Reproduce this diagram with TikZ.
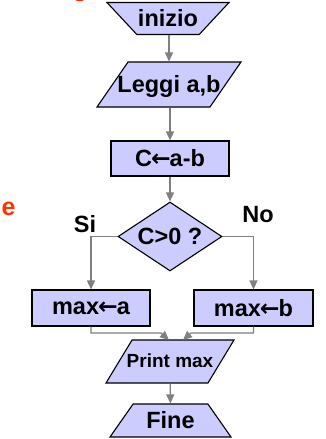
\documentclass[tikz,border=0pt]{standalone}
\usepackage{fontspec}
\setmainfont{Liberation Sans}
\newfontfamily\arrowfont{DejaVu Sans}
\newcommand{\getsarrow}{{\arrowfont\bfseries\kern-1pt←\kern-1pt}}
\usepackage{tikz}
\usetikzlibrary{shapes.geometric, arrows.meta}
\definecolor{boxfill}{HTML}{CCCCFF}
\definecolor{linegray}{HTML}{808080}
\definecolor{slideorange}{HTML}{FF3300}
\tikzset{
  blk/.style={draw=black, line width=1.1pt, fill=boxfill, inner sep=0pt,
              font=\fontsize{23.5}{26}\selectfont\bfseries},
  tz/.style={blk, trapezium, trapezium stretches body, inner xsep=-20pt},
  act/.style={blk, rectangle},
  ask/.style={blk, diamond, aspect=1.5},
  lbl/.style={font=\fontsize{23.5}{26}\selectfont\bfseries},
  frag/.style={text=slideorange, font=\fontsize{25}{28}\selectfont\bfseries, anchor=base},
  flow/.style={-{Triangle[length=9pt, width=8pt]}, draw=linegray, line width=1.3pt}
}
\begin{document}
\begin{tikzpicture}[x=1pt, y=-1pt]
  \path[use as bounding box, clip] (0,0) rectangle (325,439);
  \node[frag] (fragg) at (80,-4) {g};
  \node[frag] (frage) at (8.5,215) {e};
  \node[tz, trapezium left angle=133, trapezium right angle=133,
        minimum width=122pt, text height=23.8pt, text depth=8.2pt] (start) at (168,18.5) {inizio};
  \node[tz, trapezium left angle=55.4, trapezium right angle=124.6,
        minimum width=144pt, text height=30.3pt, text depth=14.7pt] (read) at (169,84.5) {Leggi a,b};
  \node[act, minimum width=118pt, minimum height=35pt] (diff) at (170,158.5) {C\getsarrow a-b};
  \node[ask, minimum width=104pt, minimum height=69pt] (test) at (170,236.5) {C>0 ?};
  \node[act, minimum width=118pt, minimum height=36pt] (maxa) at (91,308) {max\getsarrow a};
  \node[act, minimum width=119pt, minimum height=36pt] (maxb) at (253.5,308) {max\getsarrow b};
  \node[tz, trapezium left angle=58.8, trapezium right angle=121.2,
        minimum width=128pt, text height=27.8pt, text depth=15.2pt,
        font=\fontsize{19}{21}\selectfont\bfseries] (out) at (170,361.5) {Print max};
  \node[tz, trapezium left angle=55, trapezium right angle=55,
        minimum width=121pt, text height=24.3pt, text depth=8.7pt] (stop) at (170.5,420.5) {Fine};
  \node[lbl] (si) at (85,224) {Si};
  \node[lbl] (no) at (258,215) {No};
  \coordinate (ja) at (161,333);
  \coordinate (jb) at (191,333);
  \coordinate (ta) at (169,340);
  \coordinate (tb) at (183,340);
  \draw[flow] (start.south -| read.north) -- (read.north);
  \draw[flow] (read.south -| diff.north) -- (diff.north);
  \draw[flow] (diff) -- (test);
  \draw[flow] (test.west) -| (maxa.north);
  \draw[flow] (test.east) -| (maxb.north);
  \draw[flow] (maxa.south) |- (ja) -- (ta);
  \draw[flow] (maxb.south) |- (jb) -- (tb);
  \draw[flow] (out) -- (stop);
\end{tikzpicture}
\end{document}
